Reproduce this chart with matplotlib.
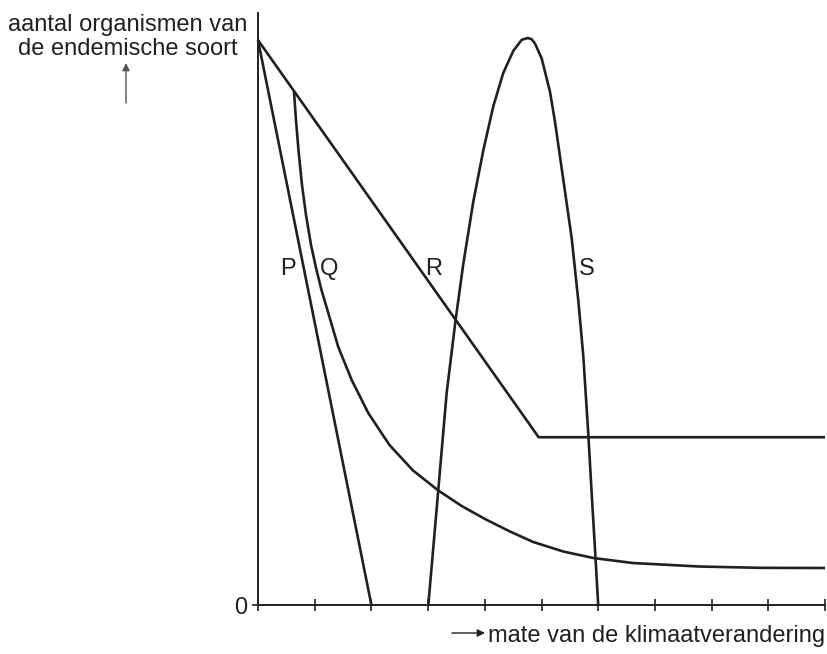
import numpy as np
import matplotlib
matplotlib.use("Agg")
import matplotlib.pyplot as plt

plt.rcParams['font.family'] = ['Liberation Sans', 'DejaVu Sans']

# curve data (x: 0..10, y: 0..100)
p_x = [0.0, 2.0]
p_y = [100.0, 0.0]

q_x = [0.635, 0.670, 0.714, 0.776, 0.847, 0.935, 1.032, 1.120, 1.240,
       1.416, 1.653, 1.945, 2.319, 2.734, 3.180, 3.593, 4.004, 4.444,
       4.855, 5.384, 5.914, 6.614, 7.795, 8.854, 10.0]
q_y = [90.85, 85.84, 80.53, 74.34, 69.03, 63.72, 59.29, 55.75, 51.68,
       45.66, 39.82, 33.98, 28.32, 23.81, 20.27, 17.52, 15.22, 13.01,
       11.15, 9.47, 8.32, 7.43, 6.81, 6.58, 6.55]

r_x = [0.0, 4.95, 10.0]
r_y = [100.0, 29.7, 29.7]

s_x = [3.004, 3.180, 3.328, 3.483, 3.621, 3.797, 3.974, 4.150, 4.326,
       4.503, 4.651, 4.757, 4.824, 4.885, 5.003, 5.150, 5.238, 5.384,
       5.533, 5.649, 5.737, 5.825, 5.891, 5.949, 6.0]
s_y = [0.0, 20.4, 37.6, 50.3, 60.4, 71.4, 80.5, 88.3, 94.2,
       98.1, 100.05, 100.37, 100.18, 99.4, 96.76, 90.85, 85.54, 75.33,
       64.9, 53.9, 44.1, 30.3, 18.71, 8.96, 0.0]

labels = ['P', 'Q', 'R', 'S']
label_x = [0.52, 1.26, 3.1, 5.79]
label_y = [59.5, 59.5, 59.5, 59.5]

ink = '#231f20'

fig = plt.figure(figsize=(8.27, 6.54), dpi=100)
ax = fig.add_axes([258 / 827, 49 / 654, 567 / 827, 592 / 654])

for xs, ys in [(p_x, p_y), (q_x, q_y), (r_x, r_y), (s_x, s_y)]:
    ax.plot(xs, ys, color=ink, lw=1.9, solid_joinstyle='round',
            solid_capstyle='butt', clip_on=False)

for lab, lx, ly in zip(labels, label_x, label_y):
    ax.text(lx, ly, lab, fontsize=17, color=ink, ha='center', va='center')

ax.set_xlim(0, 10)
ax.set_ylim(0, 104.8)
for s in ['top', 'right']:
    ax.spines[s].set_visible(False)
for s in ['left', 'bottom']:
    ax.spines[s].set_linewidth(1.4)
    ax.spines[s].set_color(ink)

ax.set_xticks(range(0, 11))
ax.set_xticklabels([])
ax.tick_params(axis='x', direction='inout', length=9, width=1.2, color=ink)
ax.set_yticks([0])
ax.set_yticklabels(['0'])
ax.tick_params(axis='y', direction='out', length=4, width=1.2, color=ink,
               labelsize=17, labelcolor=ink, pad=4)

# axis titles with little arrows
fig.text(128, 654 - 31, 'aantal organismen van', transform=None,
         fontsize=17, color=ink, ha='center', va='baseline')
fig.text(128, 654 - 55, 'de endemische soort', transform=None,
         fontsize=17, color=ink, ha='center', va='baseline')
ax.annotate('', xy=(126, 654 - 63), xycoords='figure pixels',
            xytext=(126, 654 - 103), textcoords='figure pixels',
            arrowprops=dict(arrowstyle='-|>', color='#555555', lw=1,
                            mutation_scale=11, shrinkA=0, shrinkB=0))

fig.text(825, 654 - 642, 'mate van de klimaatverandering', transform=None,
         fontsize=17, color=ink, ha='right', va='baseline')
ax.annotate('', xy=(485, 654 - 633), xycoords='figure pixels',
            xytext=(452, 654 - 633), textcoords='figure pixels',
            arrowprops=dict(arrowstyle='-|>', color=ink, lw=1,
                            mutation_scale=11, shrinkA=0, shrinkB=0))

fig.savefig('out.png', dpi=100)
